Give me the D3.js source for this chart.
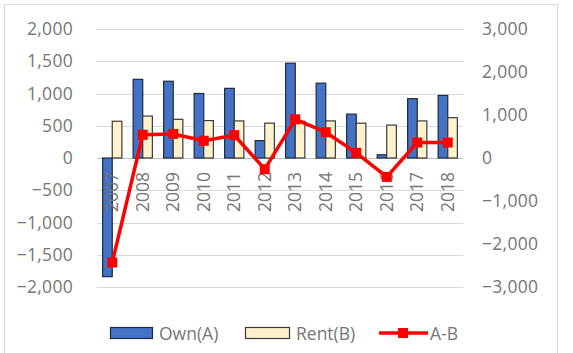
<!DOCTYPE html>
<html>
<head>
<meta charset="utf-8">
<script src="https://cdn.jsdelivr.net/npm/d3@7"></script>
<style>
body { margin: 0; background: #fff; }
text { font-family: "Open Sans", "Liberation Sans", sans-serif; fill: #767676; }
</style>
</head>
<body>
<svg id="chart" width="573" height="353"></svg>
<script>
// data
var years = ["2007", "2008", "2009", "2010", "2011", "2012", "2013", "2014", "2015", "2016", "2017", "2018"];
var own = [-1840, 1220, 1190, 1000, 1080, 270, 1470, 1160, 680, 50, 920, 970];
var rent = [570, 650, 600, 580, 575, 540, 570, 575, 540, 510, 575, 625];
var diff = [-2430, 540, 560, 400, 530, -260, 900, 600, 120, -440, 360, 360];
var leftTicks = [-2000, -1500, -1000, -500, 0, 500, 1000, 1500, 2000];
var rightTicks = [-3000, -2000, -1000, 0, 1000, 2000, 3000];

var width = 573, height = 353;
var svg = d3.select("#chart");

// plot area (window.top is read-only, so no "top" here)
var plotLeft = 97, plotRight = 463, plotTop = 29, plotBottom = 287;
var fontSize = "17.5px";

// outer frame
svg.append("rect")
    .attr("x", 4.5).attr("y", 4.5)
    .attr("width", 553).attr("height", 360)
    .attr("fill", "#fff")
    .attr("stroke", "#d9d9d9");

var x = d3.scaleBand().domain(years).range([plotLeft, plotRight]).paddingInner(0.37).paddingOuter(0.185);
var x1 = d3.scaleBand().domain(["own", "rent"]).range([0, x.bandwidth()]);
var y = d3.scaleLinear().domain([-2000, 2000]).range([plotBottom, plotTop]);
var y2 = d3.scaleLinear().domain([-3000, 3000]).range([plotBottom, plotTop]);

// gridlines
svg.append("g")
    .selectAll("line")
    .data(leftTicks)
    .join("line")
    .attr("x1", plotLeft).attr("x2", plotRight)
    .attr("y1", function(d) { return Math.round(y(d)) + 0.5; })
    .attr("y2", function(d) { return Math.round(y(d)) + 0.5; })
    .attr("stroke", function(d) { return d == 0 ? "#bfbfbf" : "#d9d9d9"; })
    .attr("stroke-width", 1);

// axis labels
var fmt = d3.format(",");
var leftAxis = d3.axisLeft(y).tickValues(leftTicks).tickFormat(fmt).tickSize(0).tickPadding(0);
var gl = svg.append("g").attr("transform", "translate(73,0)").call(leftAxis);
gl.select(".domain").remove();
gl.selectAll("text").style("font-size", fontSize).style("letter-spacing", "0.3px");
gl.attr("font-family", null);

var rightAxis = d3.axisRight(y2).tickValues(rightTicks).tickFormat(fmt).tickSize(0).tickPadding(0);
var gr = svg.append("g").attr("transform", "translate(482,0)").call(rightAxis);
gr.select(".domain").remove();
gr.selectAll("text").style("font-size", fontSize).style("letter-spacing", "0.3px");
gr.attr("font-family", null);

// bars
var g = svg.append("g");
g.selectAll(".own")
    .data(own)
    .join("rect")
    .attr("class", "own")
    .attr("x", function(d, i) { return x(years[i]) + x1("own"); })
    .attr("width", x1.bandwidth())
    .attr("y", function(d) { return y(Math.max(0, d)); })
    .attr("height", function(d) { return Math.abs(y(d) - y(0)); })
    .attr("fill", "#4472c4")
    .attr("stroke", "#1f2a3d")
    .attr("stroke-width", 1.2);

g.selectAll(".rent")
    .data(rent)
    .join("rect")
    .attr("class", "rent")
    .attr("x", function(d, i) { return x(years[i]) + x1("rent"); })
    .attr("width", x1.bandwidth())
    .attr("y", function(d) { return y(Math.max(0, d)); })
    .attr("height", function(d) { return Math.abs(y(d) - y(0)); })
    .attr("fill", "#fff2cc")
    .attr("stroke", "#3a3a3a")
    .attr("stroke-width", 1.2);

// category labels, rotated, under the zero line
svg.append("g")
    .selectAll("text")
    .data(years)
    .join("text")
    .attr("transform", function(d) {
        return "translate(" + (x(d) + x.bandwidth() / 2 - 1) + "," + (y(0) + 14) + ") rotate(-90)";
    })
    .attr("text-anchor", "end")
    .attr("dominant-baseline", "central")
    .style("font-size", fontSize)
    .text(function(d) { return d; });

// A-B line on right axis
var line = d3.line()
    .x(function(d, i) { return x(years[i]) + x.bandwidth() / 2; })
    .y(function(d) { return y2(d); });

svg.append("path")
    .datum(diff)
    .attr("d", line)
    .attr("fill", "none")
    .attr("stroke", "#ff0000")
    .attr("stroke-width", 3.5)
    .attr("stroke-linejoin", "round");

svg.append("g")
    .selectAll("rect")
    .data(diff)
    .join("rect")
    .attr("x", function(d, i) { return x(years[i]) + x.bandwidth() / 2 - 5; })
    .attr("y", function(d) { return y2(d) - 5; })
    .attr("width", 10).attr("height", 10)
    .attr("fill", "#ff0000");

// legend
var leg = svg.append("g");
leg.append("rect").attr("x", 110.5).attr("y", 327.5).attr("width", 42).attr("height", 11)
    .attr("fill", "#4472c4").attr("stroke", "#1f2a3d").attr("stroke-width", 1.2);
leg.append("text").attr("x", 159).attr("y", 333).attr("dominant-baseline", "central")
    .style("font-size", fontSize).text("Own(A)");
leg.append("rect").attr("x", 245.5).attr("y", 327.5).attr("width", 44).attr("height", 11)
    .attr("fill", "#fff2cc").attr("stroke", "#3a3a3a").attr("stroke-width", 1.2);
leg.append("text").attr("x", 296).attr("y", 333).attr("dominant-baseline", "central")
    .style("font-size", fontSize).text("Rent(B)");
leg.append("line").attr("x1", 379).attr("x2", 428).attr("y1", 333).attr("y2", 333)
    .attr("stroke", "#ff0000").attr("stroke-width", 3.5);
leg.append("rect").attr("x", 398).attr("y", 328).attr("width", 10).attr("height", 10)
    .attr("fill", "#ff0000");
leg.append("text").attr("x", 430).attr("y", 333).attr("dominant-baseline", "central")
    .style("font-size", fontSize).text("A-B");
</script>
</body>
</html>
